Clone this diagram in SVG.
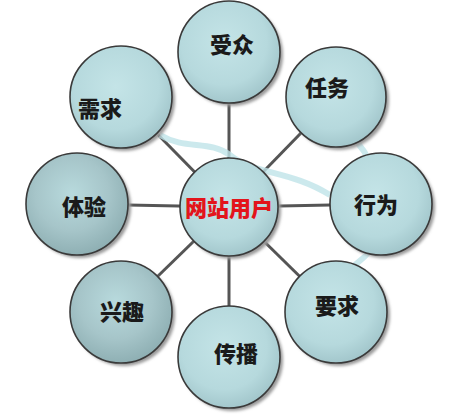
<svg xmlns="http://www.w3.org/2000/svg" width="457" height="416" viewBox="0 0 457 416">
<defs>
<radialGradient id="g1" cx="0.45" cy="0.4" r="0.6">
<stop offset="0" stop-color="#c4e4e7"/>
<stop offset="0.7" stop-color="#b6d9dd"/>
<stop offset="1" stop-color="#a3c7cc"/>
</radialGradient>
<radialGradient id="g2" cx="0.45" cy="0.4" r="0.6">
<stop offset="0" stop-color="#b8dadd"/>
<stop offset="0.6" stop-color="#a6c5c9"/>
<stop offset="1" stop-color="#8fb0b4"/>
</radialGradient>
<filter id="blur" x="-20%" y="-20%" width="140%" height="140%"><feGaussianBlur stdDeviation="1.5"/></filter>
</defs>
<style>
.c{stroke:#3a3a3a;stroke-width:1.6}
.s{fill:#9a9a9a;filter:url(#blur)}
.t{font-family:"Noto Sans CJK SC","Noto Sans",sans-serif;font-weight:900;font-size:22px;fill:#1a1a1a;text-anchor:middle;dominant-baseline:central}
.r{fill:#e3141b}
.l{stroke:#555;stroke-width:3;fill:none}
</style>
<rect width="457" height="416" fill="#ffffff"/>
<g id="connectors">
<line class="l" x1="229" y1="207" x2="229" y2="52"/>
<line class="l" x1="229" y1="207" x2="336" y2="97"/>
<line class="l" x1="229" y1="207" x2="121" y2="97"/>
<line class="l" x1="229" y1="207" x2="77" y2="204"/>
<line class="l" x1="229" y1="207" x2="381" y2="204"/>
<line class="l" x1="229" y1="207" x2="121" y2="312"/>
<line class="l" x1="229" y1="207" x2="229" y2="357"/>
<line class="l" x1="229" y1="207" x2="336" y2="312"/>
<path d="M160 135 C185 150 210 140 230 155 C255 175 290 170 330 195" stroke="#bfe3e8" stroke-width="6" fill="none" opacity="0.8"/>
<path d="M358 143 C362 150 366 152 366 156" stroke="#bfe3e8" stroke-width="6" fill="none" opacity="0.8"/>
<path d="M368 253 C364 258 358 262 354 266" stroke="#bfe3e8" stroke-width="6" fill="none" opacity="0.8"/>
</g>
<g id="n-shouzhong"><circle class="s" cx="232" cy="55" r="51"/><circle class="c" cx="229" cy="52" r="51" fill="url(#g1)"/><text class="t" x="232" y="43">受众</text></g>
<g id="n-renwu"><circle class="s" cx="339" cy="100" r="50"/><circle class="c" cx="336" cy="97" r="50" fill="url(#g1)"/><text class="t" x="327" y="86">任务</text></g>
<g id="n-xuqiu"><circle class="s" cx="124" cy="100" r="51"/><circle class="c" cx="121" cy="97" r="51" fill="url(#g1)"/><text class="t" x="100" y="107">需求</text></g>
<g id="n-tiyan"><circle class="s" cx="80" cy="207" r="51"/><circle class="c" cx="77" cy="204" r="51" fill="url(#g2)"/><text class="t" x="84" y="205">体验</text></g>
<g id="n-center"><circle class="s" cx="232" cy="210" r="49"/><circle class="c" cx="229" cy="207" r="49" fill="url(#g1)"/><text class="t r" x="229" y="206">网站用户</text></g>
<g id="n-xingwei"><circle class="s" cx="384" cy="207" r="51"/><circle class="c" cx="381" cy="204" r="51" fill="url(#g1)"/><text class="t" x="376" y="203">行为</text></g>
<g id="n-xingqu"><circle class="s" cx="124" cy="315" r="51"/><circle class="c" cx="121" cy="312" r="51" fill="url(#g2)"/><text class="t" x="122" y="310">兴趣</text></g>
<g id="n-chuanbo"><circle class="s" cx="232" cy="360" r="51"/><circle class="c" cx="229" cy="357" r="51" fill="url(#g1)"/><text class="t" x="236" y="352">传播</text></g>
<g id="n-yaoqiu"><circle class="s" cx="339" cy="315" r="51"/><circle class="c" cx="336" cy="312" r="51" fill="url(#g1)"/><text class="t" x="337" y="304">要求</text></g>
</svg>
